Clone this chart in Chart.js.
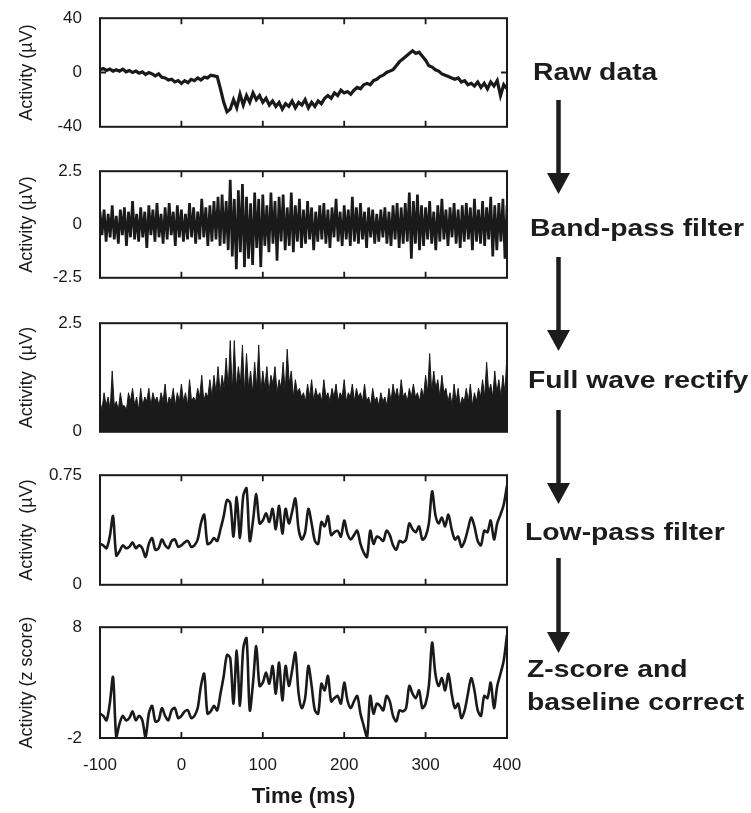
<!DOCTYPE html>
<html>
<head>
<meta charset="utf-8">
<script src="https://cdn.jsdelivr.net/npm/chart.js@4.4.1/dist/chart.umd.min.js"></script>
<style>
  body { margin: 0; background: #fff; }
  #fig { position: relative; width: 751px; height: 813px; overflow: hidden; font-family: "Liberation Sans", Arial, sans-serif; color: #1c1c1c; }
  .panel { position: absolute; left: 0; }
  .step { position: absolute; font-weight: bold; font-size: 24px; line-height: 28px; white-space: nowrap;
          transform: scaleX(1.18); transform-origin: left center; }
  svg { position: absolute; left: 0; top: 0; }
</style>
</head>
<body>
<div id="fig">
  <canvas id="rawChart" class="panel" width="540" height="165" style="top:-10px"></canvas>
  <canvas id="bandChart" class="panel" width="540" height="163" style="top:143px"></canvas>
  <canvas id="rectChart" class="panel" width="540" height="165" style="top:295px"></canvas>
  <canvas id="lowChart" class="panel" width="540" height="166" style="top:447px"></canvas>
  <canvas id="zChart" class="panel" width="540" height="214" style="top:599px"></canvas>

  <svg width="751" height="813">
    <g fill="#1c1c1c" stroke="#1c1c1c">
      <line x1="558.5" y1="100" x2="558.5" y2="178" stroke-width="4.5"/>
      <polygon points="547,173 570,173 558.5,194" stroke="none"/>
      <line x1="558.5" y1="257" x2="558.5" y2="335" stroke-width="4.5"/>
      <polygon points="547,330 570,330 558.5,351" stroke="none"/>
      <line x1="558.5" y1="410" x2="558.5" y2="488" stroke-width="4.5"/>
      <polygon points="547,483 570,483 558.5,504" stroke="none"/>
      <line x1="558.5" y1="558" x2="558.5" y2="637" stroke-width="4.5"/>
      <polygon points="547,632 570,632 558.5,653" stroke="none"/>
    </g>
  </svg>
  <div class="step" style="left:533px; top:58px">Raw data</div>
  <div class="step" style="left:530px; top:214px">Band-pass filter</div>
  <div class="step" style="left:528px; top:366px">Full wave rectify</div>
  <div class="step" style="left:525px; top:518px">Low-pass filter</div>
  <div class="step" style="left:527px; top:655px">Z-score and</div>
  <div class="step" style="left:527px; top:688px">baseline correct</div>
</div>

<script>
// time axis (ms)
const T_START = -100;
const T_END = 400;
const timeTicks = [-100, 0, 100, 200, 300, 400];

// raw EMG trace, 4 ms steps (µV)
const rawData = [
  2, 3, 1.5, 2.5, 1, 2, 1, 2.5, 0.5, 1.5, 0, 1, -0.5, 0.5, -1.5, 0, -1, -2.5, -1, -3.5, -4, -5.5, -5, -7, -6,
  -8, -6, -7.5, -5, -6, -4, -5.5, -3.5, -4, -2, -2.5, -3, -12, -22, -29, -27, -20, -26, -16, -24, -17, -22, -15, -20, -17,
  -22, -19, -24, -21, -25, -22, -27, -23, -25, -21, -26, -22, -24, -20, -26, -22, -25, -21, -23, -19, -17, -19, -15, -17, -13,
  -15, -14, -16, -13, -11, -12, -9, -8, -9, -6, -5, -3, -2, 0, 1, 2, 5, 8, 10, 12, 14, 16, 14, 15, 12,
  9, 5, 4, 2, 1, -1, -2, -3, -4, -5, -4, -7, -6, -9, -8, -10, -7, -11, -8, -12, -7, -10, -6, -17, -9, -12
];

// band-pass filtered, 2.5 ms steps (µV)
const bandPass = [
  0.6, -0.5, 0.7, -0.8, 0.5, -0.6, 0.9, -0.7, 0.4, -0.9, 0.7, -0.5, 0.8, -1.0, 0.6, -0.6, 1.1, -0.7, 0.5, -0.8,
  0.8, -0.6, 0.6, -1.1, 0.9, -0.5, 0.7, -0.8, 1.0, -0.6, 0.5, -0.9, 0.8, -0.7, 1.0, -0.5, 0.6, -1.0, 0.9, -0.6,
  0.7, -0.8, 0.5, -0.7, 1.0, -0.6, 0.8, -0.9, 0.6, -0.7, 1.2, -0.6, 0.8, -1.0, 0.9, -0.8, 1.1, -0.7, 1.3, -1.0,
  1.4, -0.9, 1.1, -1.2, 2.1, -1.5, 1.2, -2.1, 1.6, -1.3, 1.9, -2.0, 1.3, -1.6, 1.0, -1.9, 1.5, -1.1, 1.2, -2.0,
  1.4, -1.0, 0.9, -1.3, 1.5, -0.9, 1.1, -1.7, 1.3, -0.8, 1.4, -1.2, 0.8, -1.0, 1.5, -1.3, 0.9, -0.8, 1.2, -1.1,
  0.7, -0.9, 1.1, -0.7, 0.8, -1.2, 0.6, -0.8, 0.9, -0.7, 1.0, -0.9, 0.7, -1.1, 0.8, -0.6, 1.2, -0.8, 0.6, -1.0,
  0.9, -0.7, 0.7, -1.0, 1.3, -0.8, 0.8, -0.9, 1.0, -0.7, 0.6, -1.1, 0.8, -0.6, 0.7, -0.9, 0.5, -0.8, 0.7, -0.6,
  0.8, -0.9, 0.6, -1.0, 0.9, -0.7, 1.0, -1.1, 0.8, -0.9, 1.0, -0.8, 1.5, -1.6, 1.1, -0.9, 1.4, -1.2, 0.9, -1.0,
  0.8, -0.7, 1.1, -0.9, 0.6, -1.2, 0.9, -0.8, 1.2, -0.7, 0.7, -1.0, 0.8, -0.6, 1.0, -0.9, 0.7, -1.1, 0.9, -0.8,
  1.0, -0.7, 0.8, -1.2, 1.2, -0.8, 0.7, -0.9, 1.1, -1.0, 0.8, -0.7, 1.3, -1.5, 0.9, -1.2, 1.0, -0.8, 1.2, -1.6, 0.9
];

// full wave rectified, 2.5 ms steps (µV)
const rectified = [
  0.7, 0.5, 0.9, 0.6, 0.8, 0.5, 1.4, 0.6, 0.7, 0.5, 0.9, 0.6, 0.6, 0.5, 0.9, 0.7, 1.0, 0.6, 0.8, 0.5,
  1.0, 0.6, 0.8, 0.7, 1.0, 0.6, 0.9, 0.7, 0.8, 0.6, 0.9, 0.7, 1.1, 0.6, 0.8, 0.7, 1.0, 0.6, 0.9, 0.7,
  1.1, 0.7, 0.9, 0.6, 1.2, 0.7, 0.8, 0.7, 1.0, 0.8, 1.3, 0.7, 0.9, 0.8, 1.2, 0.8, 1.3, 0.9, 1.5, 0.9,
  1.3, 1.0, 1.7, 1.0, 2.1, 0.9, 2.1, 1.0, 1.5, 1.1, 2.0, 0.9, 1.8, 1.0, 1.4, 0.9, 1.6, 1.0, 2.0, 0.9,
  1.4, 1.0, 1.5, 0.9, 1.3, 1.1, 1.5, 0.9, 1.2, 1.0, 1.6, 0.9, 1.9, 1.1, 1.4, 0.8, 1.2, 0.9, 1.0, 0.8,
  0.9, 0.7, 1.1, 0.8, 1.2, 0.7, 1.0, 0.8, 0.9, 0.7, 1.2, 0.8, 0.9, 0.7, 1.0, 0.8, 1.1, 0.7, 0.9, 0.8,
  1.2, 0.7, 0.9, 0.8, 1.1, 0.7, 1.0, 0.8, 0.9, 0.7, 1.1, 0.7, 0.8, 0.6, 1.0, 0.7, 0.8, 0.6, 0.9, 0.7,
  0.8, 0.6, 1.0, 0.7, 1.1, 0.8, 1.0, 0.7, 1.2, 0.8, 0.9, 0.7, 1.0, 0.8, 1.1, 0.8, 0.9, 0.7, 1.0, 0.8,
  1.3, 0.9, 1.8, 0.9, 1.4, 1.0, 1.2, 0.8, 1.3, 0.9, 1.0, 0.7, 0.9, 0.6, 1.1, 0.7, 1.0, 0.6, 0.8, 0.7,
  1.0, 0.7, 1.1, 0.6, 0.9, 0.7, 1.0, 0.8, 1.2, 0.8, 1.6, 0.9, 1.1, 0.8, 1.4, 0.9, 1.2, 0.8, 1.3, 0.9, 1.8
];

// low-pass filtered envelope, 4 ms steps (µV)
const lowPass = [
  0.28, 0.27, 0.25, 0.33, 0.47, 0.20, 0.23, 0.27, 0.25, 0.26, 0.29, 0.25, 0.27, 0.25, 0.19, 0.28, 0.32, 0.24, 0.25, 0.31, 0.27, 0.25, 0.30, 0.31, 0.26,
  0.27, 0.29, 0.30, 0.26, 0.27, 0.31, 0.42, 0.48, 0.28, 0.29, 0.32, 0.30, 0.38, 0.47, 0.58, 0.56, 0.33, 0.60, 0.32, 0.61, 0.66, 0.30, 0.44, 0.62, 0.42,
  0.44, 0.49, 0.43, 0.52, 0.38, 0.54, 0.35, 0.52, 0.42, 0.50, 0.59, 0.38, 0.31, 0.36, 0.52, 0.42, 0.30, 0.28, 0.43, 0.40, 0.47, 0.34, 0.36, 0.37, 0.33,
  0.44, 0.35, 0.31, 0.34, 0.37, 0.28, 0.22, 0.19, 0.37, 0.28, 0.33, 0.32, 0.30, 0.37, 0.34, 0.27, 0.24, 0.30, 0.29, 0.31, 0.42, 0.38, 0.36, 0.40, 0.31,
  0.33, 0.42, 0.64, 0.48, 0.42, 0.46, 0.40, 0.48, 0.38, 0.31, 0.33, 0.26, 0.30, 0.38, 0.46, 0.40, 0.30, 0.27, 0.37, 0.36, 0.44, 0.31, 0.42, 0.48, 0.55, 0.68
];

// z-scored and baseline corrected, 4 ms steps
const zScore = [
  0.2, 0, -0.4, 1.1, 3.5, -1.9, -0.7, 0, -0.4, -0.2, 0.4, -0.4, 0, -0.4, -1.9, 0.2, 0.9, -0.5, -0.4, 0.7, 0, -0.4, 0.5, 0.7, -0.2,
  0, 0.4, 0.5, -0.2, 0, 0.7, 2.7, 3.8, 0.2, 0.4, 0.9, 0.5, 2.0, 3.6, 5.5, 5.2, 1.1, 5.9, 0.9, 6.1, 7.0, 0.5, 3.0, 6.3, 2.7,
  3.0, 3.9, 2.9, 4.5, 2.0, 4.8, 1.4, 4.5, 2.7, 4.1, 5.7, 2.0, 0.7, 1.6, 4.5, 2.7, 0.5, 0.2, 2.9, 2.3, 3.6, 1.3, 1.6, 1.8, 1.1,
  3.0, 1.4, 0.7, 1.3, 1.8, 0.2, -0.9, -2.0, 1.8, 0.2, 1.1, 0.9, 0.5, 1.8, 1.3, 0, -0.5, 0.5, 0.4, 0.7, 2.7, 2.0, 1.6, 2.3, 0.7,
  1.1, 2.7, 6.6, 3.8, 2.7, 3.4, 2.3, 3.8, 2.0, 0.7, 1.1, -0.2, 0.5, 2.0, 3.4, 2.3, 0.5, 0, 1.8, 1.6, 3.0, 0.7, 2.7, 3.8, 5.0, 7.3
];

const INK = '#1a1a1a';
const TICK_FONT = { family: '"Liberation Sans", Arial, sans-serif', size: 17 };

// sample times for an evenly sampled series
function toPoints(values) {
  const step = (T_END - T_START) / (values.length - 1);
  return values.map((v, i) => ({ x: T_START + i * step, y: v }));
}

// box frame with inward ticks, like the original figure
const framePlugin = {
  id: 'frame',
  afterDatasetsDraw(chart, args, opts) {
    const { ctx, chartArea: a, scales } = chart;
    ctx.save();
    ctx.strokeStyle = INK;
    ctx.lineWidth = 2;
    ctx.strokeRect(a.left, a.top, a.right - a.left, a.bottom - a.top);
    ctx.lineWidth = 1.8;
    ctx.beginPath();
    timeTicks.slice(1, -1).forEach(v => {
      const x = scales.x.getPixelForValue(v);
      ctx.moveTo(x, a.top); ctx.lineTo(x, a.top + 6);
      ctx.moveTo(x, a.bottom); ctx.lineTo(x, a.bottom - 6);
    });
    (opts.yInner || []).forEach(v => {
      const y = scales.y.getPixelForValue(v);
      ctx.moveTo(a.left, y); ctx.lineTo(a.left + 6, y);
      ctx.moveTo(a.right, y); ctx.lineTo(a.right - 6, y);
    });
    ctx.stroke();
    ctx.restore();
  }
};

function makePanel(id, cfg) {
  const ctx = document.getElementById(id).getContext('2d');
  const showX = !!cfg.showX;
  return new Chart(ctx, {
    type: 'line',
    data: {
      datasets: [{
        data: toPoints(cfg.values),
        borderColor: INK,
        backgroundColor: cfg.fill ? INK : 'transparent',
        borderWidth: cfg.lineWidth,
        fill: cfg.fill ? 'origin' : false,
        tension: cfg.tension || 0,
        pointRadius: 0
      }]
    },
    options: {
      responsive: false,
      animation: false,
      events: [],
      layout: { padding: { left: 0, right: 33, top: 14, bottom: showX ? 0 : 14 } },
      scales: {
        x: {
          type: 'linear',
          min: T_START,
          max: T_END,
          display: showX,
          afterBuildTicks: s => { s.ticks = timeTicks.map(v => ({ value: v })); },
          afterFit: s => { s.height = showX ? 75 : 0; },
          grid: { display: false, drawTicks: false },
          border: { display: false },
          ticks: { font: TICK_FONT, color: INK, padding: 17, maxRotation: 0, autoSkip: false },
          title: {
            display: showX,
            text: 'Time (ms)',
            color: INK,
            font: { family: '"Liberation Sans", Arial, sans-serif', size: 22, weight: 'bold' },
            padding: { top: 0, bottom: 3 }
          }
        },
        y: {
          min: cfg.yTicks[0],
          max: cfg.yTicks[cfg.yTicks.length - 1],
          afterBuildTicks: s => { s.ticks = cfg.yTicks.map(v => ({ value: v })); },
          afterFit: s => { s.width = 100; },
          grid: { display: false, drawTicks: false },
          border: { display: false },
          ticks: {
            font: TICK_FONT,
            color: INK,
            padding: 18,
            callback: (v, i) => cfg.yLabels[i]
          },
          title: {
            display: true,
            text: cfg.yTitle,
            color: INK,
            font: { family: '"Liberation Sans", Arial, sans-serif', size: 18 },
            padding: { top: 16, bottom: 0 }
          }
        }
      },
      plugins: {
        legend: { display: false },
        tooltip: { enabled: false },
        frame: { yInner: cfg.yInner }
      }
    },
    plugins: [framePlugin]
  });
}

makePanel('rawChart', {
  values: rawData, lineWidth: 3.2,
  yTicks: [-40, 0, 40], yLabels: ['-40', '0', '40'], yInner: [0],
  yTitle: 'Activity (\u00b5V)'
});
makePanel('bandChart', {
  values: bandPass, lineWidth: 2.7,
  yTicks: [-2.5, 0, 2.5], yLabels: ['-2.5', '0', '2.5'], yInner: [0],
  yTitle: 'Activity (\u00b5V)'
});
makePanel('rectChart', {
  values: rectified, lineWidth: 1, fill: true,
  yTicks: [0, 2.5], yLabels: ['0', '2.5'],
  yTitle: 'Activity  (\u00b5V)'
});
makePanel('lowChart', {
  values: lowPass, lineWidth: 2.6, tension: 0.3,
  yTicks: [0, 0.75], yLabels: ['0', '0.75'],
  yTitle: 'Activity  (\u00b5V)'
});
makePanel('zChart', {
  values: zScore, lineWidth: 2.6, tension: 0.3, showX: true,
  yTicks: [-2, 8], yLabels: ['-2', '8'],
  yTitle: 'Activity (z score)'
});
</script>
</body>
</html>
